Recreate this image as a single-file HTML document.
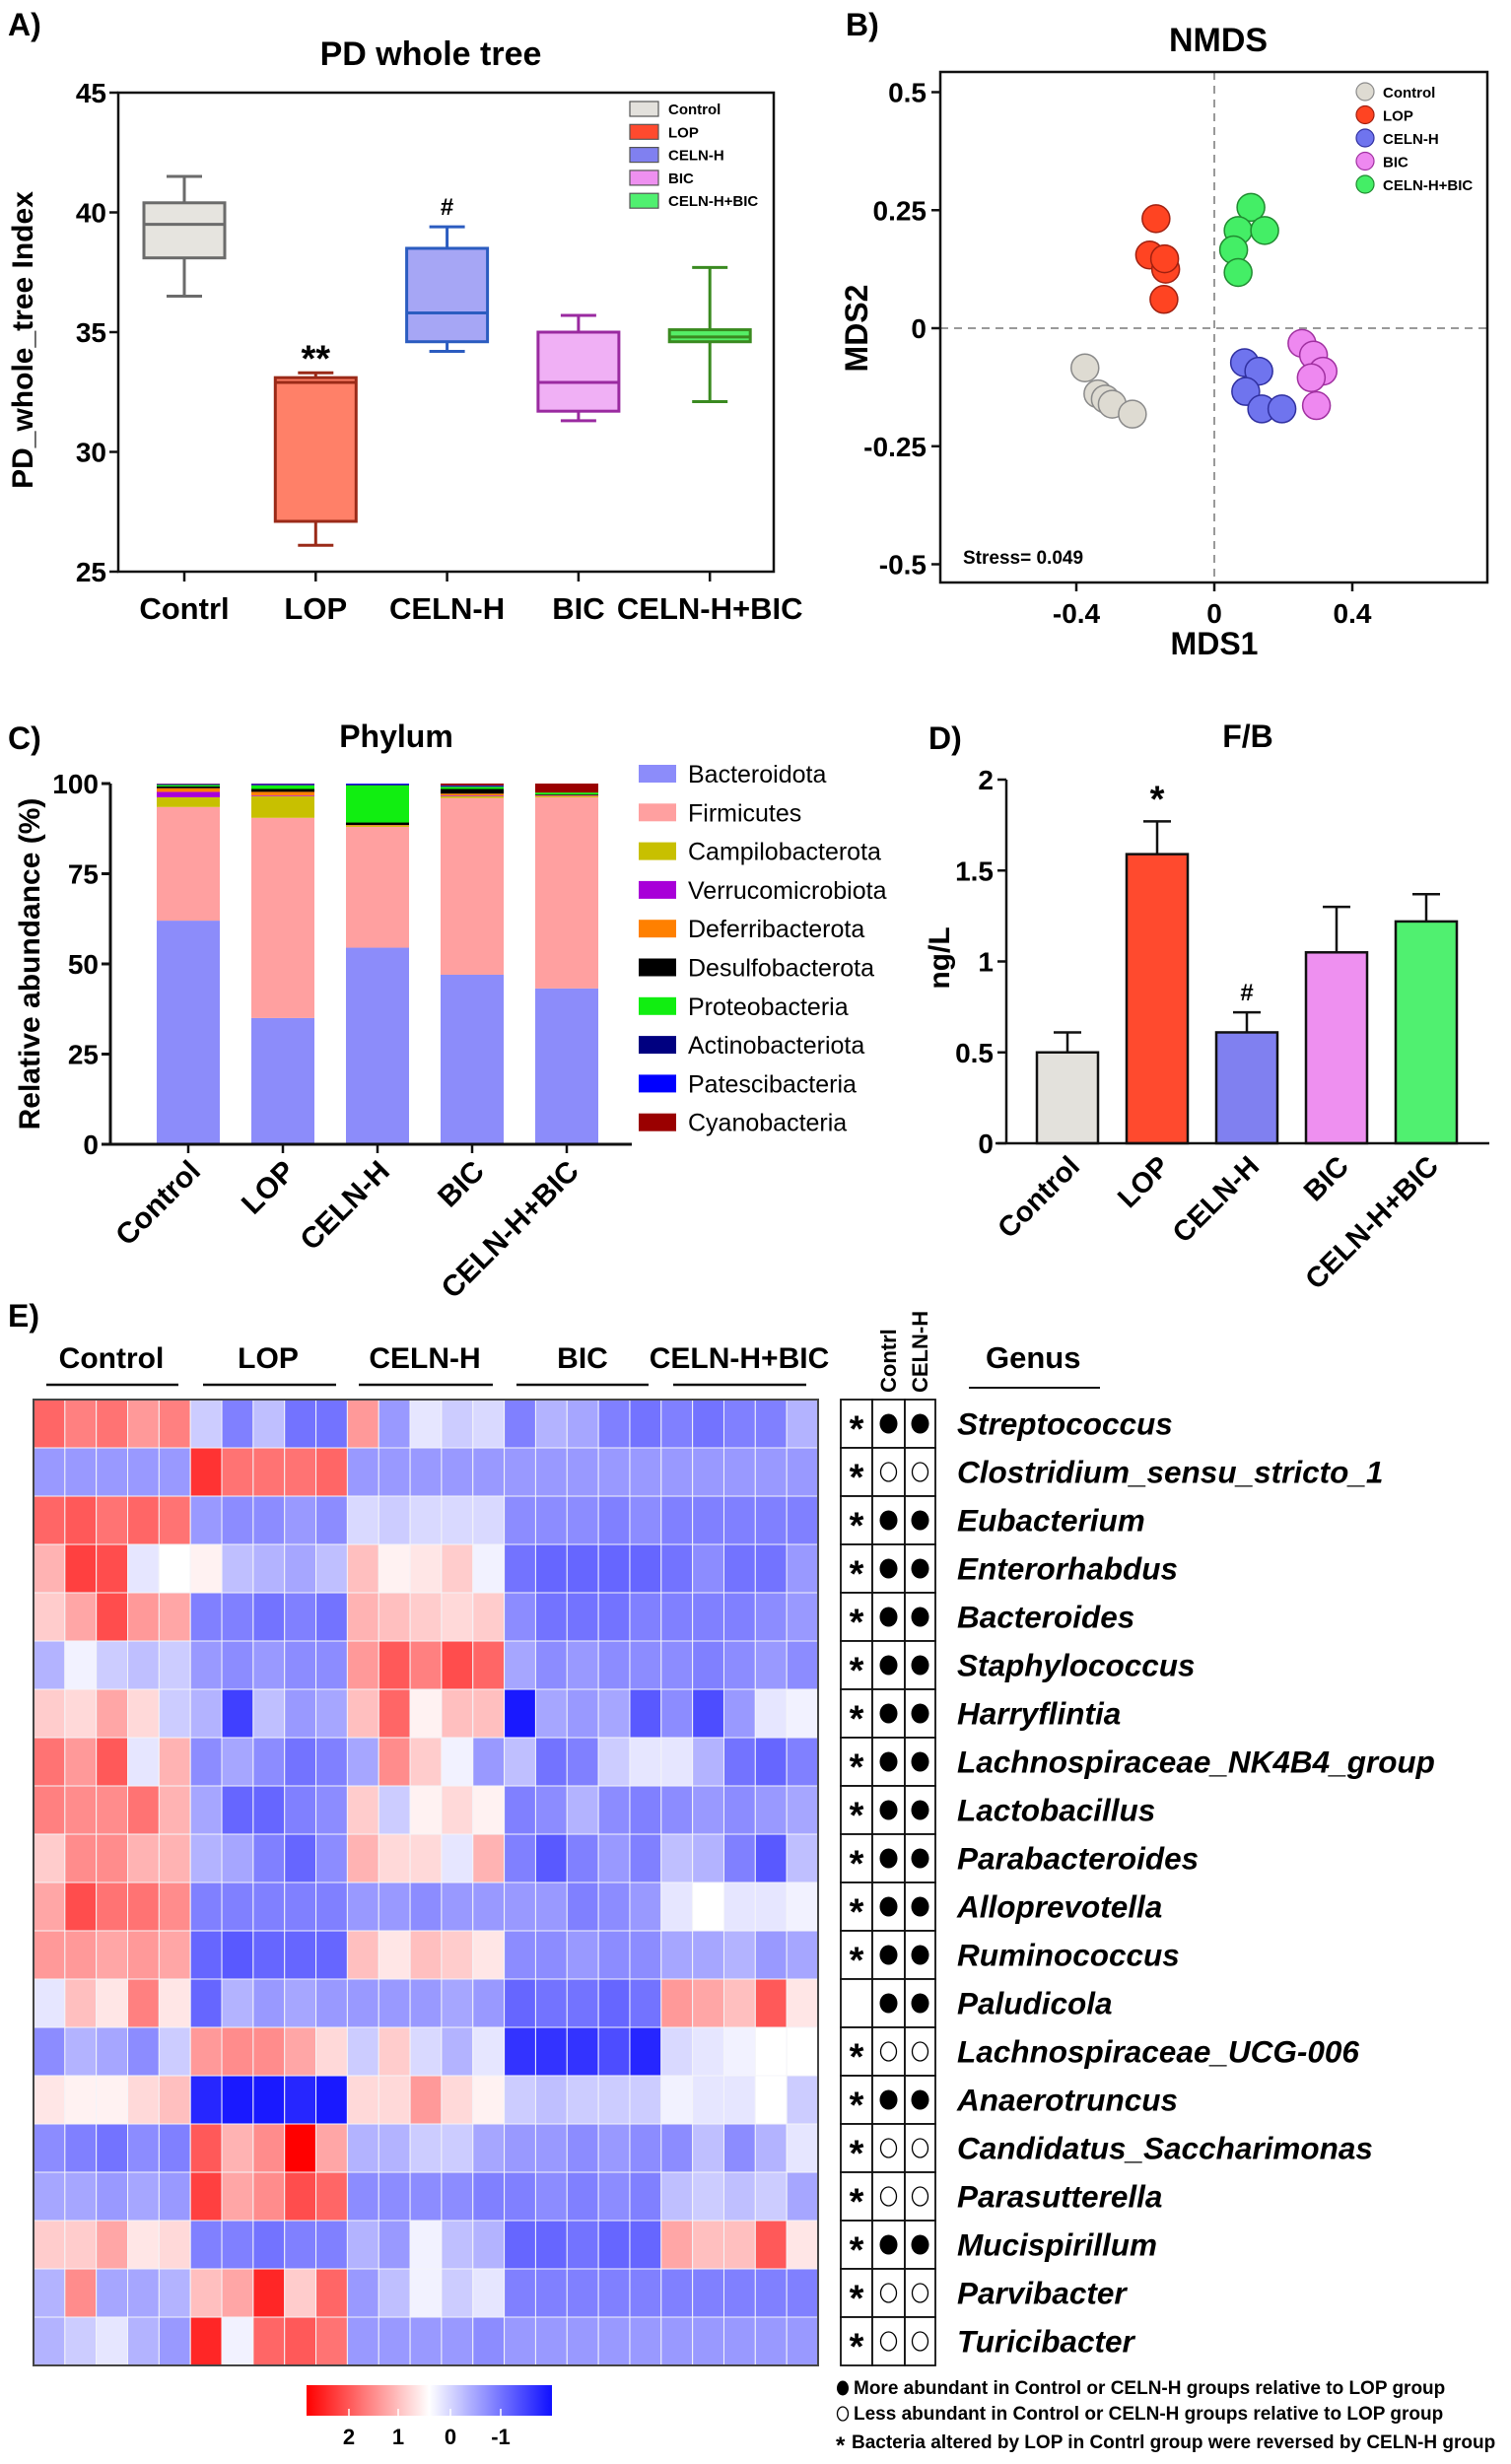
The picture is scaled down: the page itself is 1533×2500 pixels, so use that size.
<!DOCTYPE html>
<html><head><meta charset="utf-8">
<style>
html,body{margin:0;padding:0;background:#fff;}
svg{display:block;font-family:"Liberation Sans",Arial,sans-serif;}
</style></head>
<body>
<svg id="fig" width="1533" height="2500" viewBox="0 0 1533 2500" xmlns="http://www.w3.org/2000/svg">
<rect width="1533" height="2500" fill="#fff"/>
<g id="pa"></g>
<g id="pb"></g>
<g id="pc"></g>
<g id="pd"></g>
<g id="pe"></g>
</svg>
<script>
// ---------- DATA ----------
const groups = ["Control","LOP","CELN-H","BIC","CELN-H+BIC"];
const groupsA = ["Contrl","LOP","CELN-H","BIC","CELN-H+BIC"];
// Panel A: [min, q1, median, q3, max]
const pdMin = [36.5, 26.1, 34.2, 31.3, 32.1];
const pdQ1 = [38.1, 27.1, 34.6, 31.7, 34.6];
const pdMed = [39.5, 32.9, 35.8, 32.9, 34.8];
const pdQ3 = [40.4, 33.1, 38.5, 35.0, 35.1];
const pdMax = [41.5, 33.3, 39.4, 35.7, 37.7];
const pdTicks = [25, 30, 35, 40, 45];
// Panel B: NMDS coordinates per group
const mds1 = [
 [-0.375,-0.3375,-0.316,-0.296,-0.2375],
 [-0.169,-0.1875,-0.141,-0.144,-0.146],
 [0.0875,0.129,0.091,0.1375,0.196],
 [0.254,0.2875,0.315,0.281,0.296],
 [0.106,0.069,0.146,0.056,0.069]
];
const mds2 = [
 [-0.084,-0.139,-0.15,-0.161,-0.182],
 [0.232,0.155,0.125,0.147,0.061],
 [-0.073,-0.091,-0.134,-0.171,-0.171],
 [-0.032,-0.057,-0.091,-0.105,-0.164],
 [0.256,0.207,0.207,0.166,0.118]
];
const mdsYTicks = [0.5, 0.25, 0, -0.25, -0.5];
const mdsXTicks = [-0.4, 0, 0.4];
// Panel C: phylum relative abundance (%) per group
const phyla = ["Bacteroidota","Firmicutes","Campilobacterota","Verrucomicrobiota","Deferribacterota","Desulfobacterota","Proteobacteria","Actinobacteriota","Patescibacteria","Cyanobacteria"];
const bacteroidota = [62, 35, 54.5, 47, 43.2];
const firmicutes = [31.5, 55.5, 33.5, 49, 53];
const campilo = [2.7, 6, 0.3, 0.5, 0.3];
const verruco = [1.5, 0.2, 0, 0.2, 0.1];
const deferri = [1, 1, 0.2, 0.5, 0.2];
const desulfo = [0.5, 0.8, 0.7, 1.3, 0.2];
const proteo = [0.4, 1, 10.3, 0.6, 0.5];
const actino = [0.2, 0.2, 0.3, 0.3, 0];
const patesci = [0.1, 0.2, 0.2, 0.1, 0];
const cyano = [0.1, 0.1, 0, 0.5, 2.5];
const abTicks = [0, 25, 50, 75, 100];
// Panel D: F/B ratio
const fbMean = [0.5, 1.59, 0.61, 1.05, 1.22];
const fbErr = [0.11, 0.18, 0.11, 0.25, 0.15];
const fbTicks = [0, 0.5, 1, 1.5, 2];
const fbTickLabels = ["0","0.5","1","1.5","2"];
// Panel E: heatmap
const genera = ["Streptococcus","Clostridium_sensu_stricto_1","Eubacterium","Enterorhabdus","Bacteroides","Staphylococcus","Harryflintia","Lachnospiraceae_NK4B4_group","Lactobacillus","Parabacteroides","Alloprevotella","Ruminococcus","Paludicola","Lachnospiraceae_UCG-006","Anaerotruncus","Candidatus_Saccharimonas","Parasutterella","Mucispirillum","Parvibacter","Turicibacter"];
const heat = [
 [.6,.5,.55,.4,.5,-.2,-.5,-.25,-.55,-.55,.4,-.4,-.1,-.2,-.15,-.5,-.3,-.35,-.5,-.55,-.5,-.55,-.5,-.5,-.3],
 [-.4,-.4,-.4,-.4,-.4,.8,.55,.55,.55,.6,-.4,-.4,-.4,-.4,-.4,-.4,-.4,-.4,-.4,-.4,-.4,-.4,-.4,-.4,-.4],
 [.6,.65,.55,.6,.55,-.4,-.45,-.45,-.4,-.45,-.15,-.2,-.15,-.15,-.15,-.45,-.45,-.45,-.5,-.45,-.5,-.5,-.5,-.5,-.5],
 [.3,.75,.7,-.1,0,.05,-.25,-.3,-.35,-.25,.25,.05,.1,.2,-.05,-.55,-.6,-.6,-.6,-.6,-.55,-.45,-.55,-.55,-.4],
 [.2,.35,.7,.4,.35,-.5,-.5,-.55,-.5,-.55,.3,.25,.2,.15,.2,-.45,-.55,-.55,-.55,-.5,-.5,-.5,-.5,-.45,-.4],
 [-.3,-.05,-.2,-.25,-.2,-.4,-.45,-.4,-.45,-.45,.4,.65,.5,.7,.6,-.35,-.45,-.4,-.45,-.45,-.45,-.5,-.45,-.4,-.45],
 [.2,.15,.35,.15,-.2,-.3,-.75,-.25,-.4,-.35,.25,.6,.05,.25,.25,-.9,-.35,-.4,-.35,-.65,-.45,-.7,-.4,-.1,-.05],
 [.55,.4,.65,-.1,.3,-.45,-.35,-.45,-.55,-.5,-.35,.45,.2,-.05,-.4,-.25,-.55,-.5,-.2,-.1,-.1,-.3,-.55,-.6,-.5],
 [.5,.45,.45,.55,.3,-.35,-.6,-.6,-.5,-.45,.2,-.2,.05,.15,.05,-.5,-.45,-.3,-.45,-.5,-.45,-.4,-.45,-.4,-.35],
 [.2,.45,.45,.3,.3,-.3,-.35,-.5,-.6,-.45,.3,.15,.15,-.1,.3,-.5,-.65,-.5,-.4,-.5,-.25,-.3,-.5,-.65,-.25],
 [.35,.7,.55,.55,.45,-.5,-.5,-.5,-.5,-.5,-.4,-.4,-.45,-.4,-.4,-.4,-.4,-.5,-.45,-.4,-.1,0,-.1,-.1,-.05],
 [.4,.4,.35,.4,.35,-.6,-.65,-.6,-.6,-.6,.25,.1,.25,.2,.1,-.45,-.45,-.4,-.45,-.45,-.35,-.35,-.3,-.4,-.35],
 [-.1,.25,.1,.5,.1,-.6,-.3,-.4,-.35,-.4,-.4,-.4,-.4,-.35,-.4,-.6,-.55,-.55,-.6,-.55,.4,.35,.25,.65,.1],
 [-.45,-.3,-.35,-.45,-.2,.4,.45,.45,.35,.15,-.2,.2,-.15,-.3,-.1,-.8,-.8,-.8,-.7,-.85,-.15,-.1,-.05,0,0],
 [.1,.05,.05,.15,.25,-.85,-.9,-.9,-.85,-.9,.15,.15,.4,.15,.05,-.2,-.25,-.2,-.2,-.2,-.05,-.1,-.1,0,-.2],
 [-.45,-.5,-.55,-.45,-.5,.65,.3,.45,1,.35,-.3,-.3,-.2,-.2,-.35,-.4,-.4,-.45,-.4,-.45,-.45,-.25,-.45,-.3,-.1],
 [-.35,-.35,-.4,-.35,-.4,.75,.35,.45,.7,.6,-.45,-.45,-.45,-.45,-.5,-.5,-.45,-.5,-.45,-.5,-.25,-.2,-.25,-.2,-.35],
 [.2,.2,.35,.1,.15,-.5,-.5,-.55,-.5,-.5,-.3,-.4,-.05,-.25,-.3,-.6,-.6,-.55,-.6,-.6,.35,.25,.25,.65,.1],
 [-.3,.45,-.35,-.35,-.3,.25,.35,.85,.2,.6,-.4,-.25,-.05,-.2,-.1,-.5,-.5,-.5,-.5,-.5,-.5,-.5,-.5,-.5,-.5],
 [-.3,-.2,-.1,-.3,-.4,.85,-.05,.6,.65,.55,-.4,-.4,-.4,-.4,-.45,-.4,-.4,-.4,-.4,-.4,-.4,-.4,-.4,-.4,-.4]
];
const moreAbundant = [1,0,1,1,1,1,1,1,1,1,1,1,1,0,1,0,0,1,0,0];
const reversedStar = [1,1,1,1,1,1,1,1,1,1,1,1,0,1,1,1,1,1,1,1];
const cbarLabels = ["2","1","0","-1"];

// ---------- HELPERS ----------
const NS = "http://www.w3.org/2000/svg";
function el(parent, tag, attrs, text){
  const e = document.createElementNS(NS, tag);
  for (const k in attrs) e.setAttribute(k, attrs[k]);
  if (text !== undefined) e.textContent = text;
  parent.appendChild(e);
  return e;
}
const B = "bold";
const fillC = ["#e3e1dc","#ff4a2e","#8080f0","#ee90f0","#50f070"];

// ---------- PANEL A ----------
(function(){
  const g = document.getElementById('pa');
  const L=120,R=785,T=94,Bt=580;
  const y = v => Bt - (v-25)*(Bt-T)/20;
  const x = i => 187 + i*133.3;
  let t;
  t = el(g,'text',{x:8,y:36,'font-size':32,'font-weight':B}, 'A)');
   
  t = el(g,'text',{x:437,y:66,'font-size':34,'font-weight':B,'text-anchor':'middle'}, 'PD whole tree');
   
  t = el(g,'text',{x:0,y:0,'font-size':30,'font-weight':B,'text-anchor':'middle',transform:'translate(33,345) rotate(-90)'}, 'PD_whole_tree Index');
   
  const fr = el(g,'rect',{x:L,y:T,width:R-L,height:Bt-T,fill:'none',stroke:'#111','stroke-width':2.5});
   
  pdTicks.forEach(v=>{
    el(g,'line',{x1:L-9,x2:L,y1:y(v),y2:y(v),stroke:'#111','stroke-width':2.5});
    const tl = el(g,'text',{x:L-12,y:y(v)+10,'font-size':28,'font-weight':B,'text-anchor':'end'}, String(v));
     
  });
  const strokes = ["#6b6b6b","#9a2a18","#2b5cc0","#9a2aa0","#3a8a20"];
  const fills = ["#e6e4df","#ff8068","#a6a6f5","#f0b0f5","#55ee66"];
  groupsA.forEach((gname,i)=>{
    const cx = x(i), w=82;
    el(g,'line',{x1:cx,x2:cx,y1:Bt,y2:Bt+10,stroke:'#111','stroke-width':2.5});
    const xl = el(g,'text',{x:cx,y:628,'font-size':31,'font-weight':B,'text-anchor':'middle'}, gname);
     
    const bg = el(g,'g',{});
     
    const s = strokes[i];
    el(bg,'line',{x1:cx,x2:cx,y1:y(pdMax[i]),y2:y(pdQ3[i]),stroke:s,'stroke-width':3});
    el(bg,'line',{x1:cx,x2:cx,y1:y(pdQ1[i]),y2:y(pdMin[i]),stroke:s,'stroke-width':3});
    el(bg,'line',{x1:cx-18,x2:cx+18,y1:y(pdMax[i]),y2:y(pdMax[i]),stroke:s,'stroke-width':3});
    el(bg,'line',{x1:cx-18,x2:cx+18,y1:y(pdMin[i]),y2:y(pdMin[i]),stroke:s,'stroke-width':3});
    el(bg,'rect',{x:cx-w/2,y:y(pdQ3[i]),width:w,height:y(pdQ1[i])-y(pdQ3[i]),fill:fills[i],stroke:s,'stroke-width':3});
    el(bg,'line',{x1:cx-w/2,x2:cx+w/2,y1:y(pdMed[i]),y2:y(pdMed[i]),stroke:s,'stroke-width':3});
  });
  t = el(g,'text',{x:x(1),y:y(pdMax[1])-2,'font-size':38,'font-weight':B,'text-anchor':'middle'}, '**');
   
  t = el(g,'text',{x:x(2),y:y(pdMax[2])-12,'font-size':24,'font-weight':B,'text-anchor':'middle'}, '#');
   
  groups.forEach((gname,i)=>{
    const ly = 110 + i*23.3;
    const lg = el(g,'g',{});
     
    el(lg,'rect',{x:639,y:ly-7,width:29,height:15,fill:fillC[i],stroke:'#555','stroke-width':1.2});
    el(lg,'text',{x:678,y:ly+6,'font-size':15,'font-weight':B}, gname);
  });
})();

// ---------- PANEL B ----------
(function(){
  const g = document.getElementById('pb');
  const L=954,R=1509,T=73,Bt=591;
  const x = v => 1232 + v*350;
  const y = v => 333 - v*479;
  let t;
  t = el(g,'text',{x:858,y:36,'font-size':32,'font-weight':B}, 'B)');
   
  t = el(g,'text',{x:1236,y:52,'font-size':34,'font-weight':B,'text-anchor':'middle'}, 'NMDS');
   
  el(g,'line',{x1:x(0),x2:x(0),y1:T,y2:Bt,stroke:'#999','stroke-width':2,'stroke-dasharray':'8,6'});
  el(g,'line',{x1:L,x2:R,y1:y(0),y2:y(0),stroke:'#999','stroke-width':2,'stroke-dasharray':'8,6'});
  const fr = el(g,'rect',{x:L,y:T,width:R-L,height:Bt-T,fill:'none',stroke:'#111','stroke-width':2.5});
   
  mdsYTicks.forEach(v=>{
    el(g,'line',{x1:L-9,x2:L,y1:y(v),y2:y(v),stroke:'#111','stroke-width':2.5});
    const tl = el(g,'text',{x:L-14,y:y(v)+10,'font-size':28,'font-weight':B,'text-anchor':'end'}, String(v));
     
  });
  mdsXTicks.forEach(v=>{
    el(g,'line',{x1:x(v),x2:x(v),y1:Bt,y2:Bt+9,stroke:'#111','stroke-width':2.5});
    const tl = el(g,'text',{x:x(v),y:632,'font-size':28,'font-weight':B,'text-anchor':'middle'}, String(v));
     
  });
  t = el(g,'text',{x:1232,y:664,'font-size':32,'font-weight':B,'text-anchor':'middle'}, 'MDS1');
   
  t = el(g,'text',{x:0,y:0,'font-size':32,'font-weight':B,'text-anchor':'middle',transform:'translate(880,333) rotate(-90)'}, 'MDS2');
   
  const pf = ["#dedbd2","#ff4422","#6f74ee","#ee88f0","#44ee66"];
  const ps = ["#8a8a8a","#a02010","#3030a0","#a030a0","#208a30"];
  mds1.forEach((arr,gi)=>{
    arr.forEach((v,j)=>{
      const c = el(g,'circle',{cx:x(v),cy:y(mds2[gi][j]),r:14,fill:pf[gi],stroke:ps[gi],'stroke-width':1.5});
      
      
    });
  });
  groups.forEach((gname,i)=>{
    const ly = 93 + i*23.5;
    const lg = el(g,'g',{});
     
    el(lg,'circle',{cx:1385,cy:ly,r:9,fill:pf[i],stroke:ps[i],'stroke-width':1.2});
    el(lg,'text',{x:1403,y:ly+6,'font-size':15,'font-weight':B}, gname);
  });
  t = el(g,'text',{x:977,y:572,'font-size':19,'font-weight':B}, 'Stress= 0.049');
   
})();

// ---------- PANEL C ----------
(function(){
  const g = document.getElementById('pc');
  const y = v => 1161 - v*3.66;
  const cx = i => 191 + i*96;
  const series = [bacteroidota,firmicutes,campilo,verruco,deferri,desulfo,proteo,actino,patesci,cyano];
  const cols = ["#8c8cfa","#ffa0a0","#c8c000","#a800d8","#ff8000","#000000","#11ee11","#000080","#0000ff","#9a0000"];
  let t;
  t = el(g,'text',{x:8,y:760,'font-size':32,'font-weight':B}, 'C)');
   
  t = el(g,'text',{x:402,y:758,'font-size':32,'font-weight':B,'text-anchor':'middle'}, 'Phylum');
   
  t = el(g,'text',{x:0,y:0,'font-size':30,'font-weight':B,'text-anchor':'middle',transform:'translate(40,978) rotate(-90)'}, 'Relative abundance (%)');
   
  groups.forEach((gname,i)=>{
    let acc = 0;
    series.forEach((s,k)=>{
      const r = el(g,'rect',{x:cx(i)-32,y:y(acc+s[i]),width:64,height:s[i]*3.66,fill:cols[k]});
      
      
      acc += s[i];
    });
    el(g,'line',{x1:cx(i),x2:cx(i),y1:1161,y2:1170,stroke:'#111','stroke-width':2.5});
    const xl = el(g,'text',{x:0,y:0,'font-size':30,'font-weight':B,'text-anchor':'end',transform:`translate(${cx(i)+14},1190) rotate(-45)`}, gname);
     
  });
  el(g,'line',{x1:112,x2:112,y1:y(100),y2:1161,stroke:'#111','stroke-width':3});
  el(g,'line',{x1:112,x2:641,y1:1161,y2:1161,stroke:'#111','stroke-width':3});
  abTicks.forEach(v=>{
    el(g,'line',{x1:103,x2:112,y1:y(v),y2:y(v),stroke:'#111','stroke-width':3});
    const tl = el(g,'text',{x:100,y:y(v)+10,'font-size':28,'font-weight':B,'text-anchor':'end'}, String(v));
     
  });
  phyla.forEach((p,k)=>{
    const ly = 785 + k*39.3;
    const lg = el(g,'g',{});
     
    el(lg,'rect',{x:648,y:ly-9,width:38,height:18,fill:cols[k]});
    el(lg,'text',{x:698,y:ly+9,'font-size':25}, p);
  });
})();

// ---------- PANEL D ----------
(function(){
  const g = document.getElementById('pd');
  const y = v => 1160 - v*184.5;
  const cx = i => 1083 + i*91;
  const strokeC = "#111";
  let t;
  t = el(g,'text',{x:942,y:760,'font-size':32,'font-weight':B}, 'D)');
   
  t = el(g,'text',{x:1266,y:758,'font-size':32,'font-weight':B,'text-anchor':'middle'}, 'F/B');
   
  t = el(g,'text',{x:0,y:0,'font-size':30,'font-weight':B,'text-anchor':'middle',transform:'translate(963,972) rotate(-90)'}, 'ng/L');
   
  groups.forEach((gname,i)=>{
    const top = fbMean[i] + fbErr[i];
    el(g,'line',{x1:cx(i),x2:cx(i),y1:y(top),y2:y(fbMean[i]),stroke:strokeC,'stroke-width':2.5});
    el(g,'line',{x1:cx(i)-14,x2:cx(i)+14,y1:y(top),y2:y(top),stroke:strokeC,'stroke-width':2.5});
    const r = el(g,'rect',{x:cx(i)-31,y:y(fbMean[i]),width:62,height:fbMean[i]*184.5,fill:fillC[i],stroke:strokeC,'stroke-width':2.5});
    
    
    const xl = el(g,'text',{x:0,y:0,'font-size':29,'font-weight':B,'text-anchor':'end',transform:`translate(${cx(i)+14},1185) rotate(-45)`}, gname);
     
  });
  el(g,'line',{x1:1021,x2:1021,y1:y(2),y2:1160,stroke:'#111','stroke-width':2.5});
  el(g,'line',{x1:1010,x2:1511,y1:1160,y2:1160,stroke:'#111','stroke-width':2.5});
  fbTicks.forEach((v,k)=>{
    el(g,'line',{x1:1012,x2:1021,y1:y(v),y2:y(v),stroke:'#111','stroke-width':2.5});
    const tl = el(g,'text',{x:1008,y:y(v)+10,'font-size':28,'font-weight':B,'text-anchor':'end'}, fbTickLabels[k]);
     
  });
  t = el(g,'text',{x:cx(1),y:y(fbMean[1]+fbErr[1])-10,'font-size':38,'font-weight':B,'text-anchor':'middle'}, '*');
   
  t = el(g,'text',{x:cx(2),y:y(fbMean[2]+fbErr[2])-12,'font-size':24,'font-weight':B,'text-anchor':'middle'}, '#');
   
})();

// ---------- PANEL E ----------
(function(){
  const g = document.getElementById('pe');
  const X0=34, Y0=1420, CW=796/25, RH=49;
  function col(v){
    v = Math.max(-1, Math.min(1, v));
    let r,gg,b;
    if (v>=0){ r=255; gg=b=Math.round(255*(1-v)); }
    else { b=255; r=gg=Math.round(255*(1+v)); }
    return `rgb(${r},${gg},${b})`;
  }
  let t;
  t = el(g,'text',{x:8,y:1346,'font-size':32,'font-weight':B}, 'E)');
   
  const gx = [113,272,431,591,750];
  const lx1 = [47,206,364,524,683], lx2=[181,341,500,658,818];
  groups.forEach((gname,i)=>{
    const gl = el(g,'text',{x:gx[i],y:1388,'font-size':30,'font-weight':B,'text-anchor':'middle'}, gname);
     
    el(g,'line',{x1:lx1[i],x2:lx2[i],y1:1405,y2:1405,stroke:'#111','stroke-width':2.5});
  });
  heat.forEach((row,ri)=>{
    row.forEach((v,ci)=>{
      const c = el(g,'rect',{x:X0+ci*CW,y:Y0+ri*RH,width:CW,height:RH,fill:col(v),stroke:'#f4f4f8','stroke-width':1});
      
      
    });
  });
  el(g,'rect',{x:X0,y:Y0,width:796,height:RH*20,fill:'none',stroke:'#444','stroke-width':2});
  // symbol table
  const sx = [853,885,918,949];
  genera.forEach((gn,ri)=>{
    const yy = Y0+ri*RH;
    for (let k=0;k<3;k++){
      el(g,'rect',{x:sx[k],y:yy,width:sx[k+1]-sx[k],height:RH,fill:'#fff',stroke:'#111','stroke-width':1.8});
    }
    const cy = yy+RH/2;
    if (reversedStar[ri]){
      const st = el(g,'text',{x:(sx[0]+sx[1])/2,y:cy+18,'font-size':38,'font-weight':B,'text-anchor':'middle'}, '*');
       
    }
    for (let k=1;k<3;k++){
      const ccx=(sx[k]+sx[k+1])/2;
      const c = el(g,'ellipse',{cx:ccx,cy:cy,rx:moreAbundant[ri]?9:8,ry:moreAbundant[ri]?10:9.5,fill:moreAbundant[ri]?'#000':'#fff',stroke:'#000','stroke-width':moreAbundant[ri]?0:1.3});
      
      
    }
    const lbl = el(g,'text',{x:971,y:cy+11,'font-size':31.5,'font-weight':B,'font-style':'italic'}, gn);
     
  });
  t = el(g,'text',{x:0,y:0,'font-size':22,'font-weight':B,transform:'translate(909,1413) rotate(-90)'}, 'Contrl');
   
  t = el(g,'text',{x:0,y:0,'font-size':22,'font-weight':B,transform:'translate(941,1413) rotate(-90)'}, 'CELN-H');
   
  t = el(g,'text',{x:1000,y:1388,'font-size':31,'font-weight':B}, 'Genus');
   
  el(g,'line',{x1:983,x2:1116,y1:1408,y2:1408,stroke:'#111','stroke-width':2});
  // color bar
  const defs = el(g,'defs',{});
  const lg = el(defs,'linearGradient',{id:'cbg',x1:'0',x2:'1',y1:'0',y2:'0'});
  el(lg,'stop',{offset:'0','stop-color':'#ff0000'});
  el(lg,'stop',{offset:'0.5','stop-color':'#ffffff'});
  el(lg,'stop',{offset:'1','stop-color':'#1010ff'});
  const cb = el(g,'rect',{x:311,y:2420,width:249,height:31,fill:'url(#cbg)'});
   
  const cbx = [354,404,457,508];
  cbarLabels.forEach((s,k)=>{
    el(g,'line',{x1:cbx[k],x2:cbx[k],y1:2444,y2:2451,stroke:'#fff','stroke-width':1.5});
    const tl = el(g,'text',{x:cbx[k],y:2480,'font-size':22,'font-weight':B,'text-anchor':'middle'}, s);
     
  });
  // footnotes
  el(g,'ellipse',{cx:855,cy:2423,rx:6,ry:7.5,fill:'#000'});
  t = el(g,'text',{x:866,y:2429,'font-size':19,'font-weight':B}, 'More abundant in Control or CELN-H groups relative to LOP group');
   
  el(g,'ellipse',{cx:855,cy:2449,rx:5.5,ry:7,fill:'#fff',stroke:'#000','stroke-width':1.3});
  t = el(g,'text',{x:866,y:2455,'font-size':19,'font-weight':B}, 'Less abundant in Control or CELN-H groups relative to LOP group');
   
  t = el(g,'text',{x:848,y:2489,'font-size':24,'font-weight':B}, '*');
  t = el(g,'text',{x:864,y:2484,'font-size':19,'font-weight':B}, 'Bacteria altered by LOP in Contrl group were reversed by CELN-H group');
   
})();
</script>
</body></html>
